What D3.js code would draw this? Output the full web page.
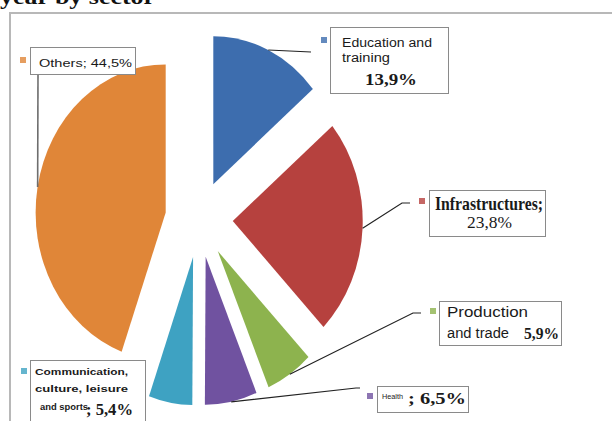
<!DOCTYPE html>
<html>
<head>
<meta charset="utf-8">
<script src="https://cdn.jsdelivr.net/npm/d3@7"></script>
<style>
  html, body { margin: 0; padding: 0; background: #fff; }
  svg { display: block; }
</style>
</head>
<body>
<script>
// ---------- data ----------
const categories = ["Education and training", "Infrastructures", "Production and trade", "Health", "Communication, culture, leisure and sports", "Others"];
const values = [13.9, 23.8, 5.9, 6.5, 5.4, 44.5];
const valueLabels = ["13,9%", "23,8%", "5,9%", "6,5%", "5,4%", "44,5%"];
const colors = ["#3d6dae", "#b6413e", "#8db34e", "#7052a0", "#3ea2c2", "#e08638"];
const titleText = "year by sector";

// ---------- layout ----------
const W = 612, H = 421;
const cx = 199, cy = 219, rx = 130, ry = 148, explode = 0.26;

const svg = d3.select("body").append("svg").attr("width", W).attr("height", H);

// title (cropped at the top of the picture)
svg.append("text").attr("x", 0).attr("y", 4)
  .attr("font-family", "Liberation Serif").attr("font-weight", "bold").attr("font-size", 22)
  .attr("textLength", 155).attr("lengthAdjust", "spacingAndGlyphs")
  .attr("fill", "#111").text(titleText);

// chart frame
svg.append("rect").attr("x", 10).attr("y", 13).attr("width", 700).attr("height", 500)
  .attr("fill", "#fff").attr("stroke", "#b8b8b8").attr("stroke-width", 2);

const pie = d3.pie().sort(null).value(d => d);
const arcs = pie(values);
const arcGen = d3.arc().innerRadius(0).outerRadius(1);

function mid(a) { return (a.startAngle + a.endAngle) / 2; }
function apex(a) {
  const m = mid(a);
  return [cx + explode * rx * Math.sin(m), cy - explode * ry * Math.cos(m)];
}
function arcMid(a) {
  const m = mid(a), p = apex(a);
  return [p[0] + rx * Math.sin(m), p[1] - ry * Math.cos(m)];
}

// slices
svg.append("g").selectAll("path").data(arcs).join("path")
  .attr("transform", d => { const p = apex(d); return `translate(${p[0]},${p[1]}) scale(${rx},${ry})`; })
  .attr("d", arcGen)
  .attr("fill", (d, i) => colors[i]);

// label layout (per category index)
const sans = "Liberation Sans", serif = "Liberation Serif";
const labelLayout = [
  { box: [330, 27, 118, 66], marker: [321, 37],
    leader: [[311, 52]], leaderColor: "#222",
    lines: [
      { t: () => "Education and", x: 342, y: 47, f: sans, s: 12, w: "normal", len: 90 },
      { t: () => "training", x: 342, y: 62, f: sans, s: 12, w: "normal", len: 48 },
      { t: i => valueLabels[i], x: 365, y: 85, f: serif, s: 17, w: "bold", len: 52 }
    ] },
  { box: [429, 190, 116, 46], marker: [419, 198],
    leader: [[402, 203], [410, 203]], leaderColor: "#222",
    lines: [
      { t: i => categories[i] + ";", x: 435, y: 210, f: serif, s: 19, w: "bold", len: 108 },
      { t: i => valueLabels[i], x: 467, y: 228, f: serif, s: 17, w: "normal", len: 45 }
    ] },
  { box: [439, 301, 122, 44], marker: [430, 308],
    leader: [[413, 313], [421, 313]], leaderColor: "#222",
    lines: [
      { t: () => "Production", x: 447, y: 317, f: sans, s: 14, w: "normal", len: 81 },
      { t: () => "and trade", x: 447, y: 338, f: sans, s: 14, w: "normal", len: 62 },
      { t: i => valueLabels[i], x: 524, y: 339, f: serif, s: 16, w: "bold", len: 35 }
    ] },
  { box: [377, 386, 91, 26], marker: [367, 393],
    leader: [[356, 388], [360, 388]], leaderColor: "#222",
    lines: [
      { t: i => categories[i], x: 382, y: 399, f: sans, s: 7, w: "normal", len: 21 },
      { t: i => "; " + valueLabels[i], x: 408, y: 404, f: serif, s: 16, w: "bold", len: 58 }
    ] },
  { box: [30, 360, 115, 80], marker: [21, 368],
    leader: null,
    lines: [
      { t: () => "Communication,", x: 35, y: 375, f: sans, s: 9, w: "bold", len: 93 },
      { t: () => "culture, leisure", x: 35, y: 392, f: sans, s: 9, w: "bold", len: 93 },
      { t: () => "and sports", x: 40, y: 410, f: sans, s: 9, w: "bold", len: 48 },
      { t: i => "; " + valueLabels[i], x: 86, y: 415, f: serif, s: 16, w: "bold", len: 47 }
    ] },
  { box: [30, 47, 105, 27], marker: [20, 57],
    leader: [[38, 74]], leaderColor: "#6e6e6e", leaderWidth: 1.6,
    lines: [
      { t: i => categories[i] + "; " + valueLabels[i], x: 39, y: 67, f: sans, s: 11, w: "normal", len: 93 }
    ] }
];

// leader lines
const lineGen = d3.line();
arcs.forEach((a, i) => {
  const L = labelLayout[i];
  if (!L.leader) return;
  const pts = [arcMid(a)].concat(L.leader);
  svg.append("path").attr("d", lineGen(pts)).attr("fill", "none")
    .attr("stroke", L.leaderColor).attr("stroke-width", L.leaderWidth || 1.2);
});

// label boxes, markers and text
const lab = svg.append("g");
arcs.forEach((a, i) => {
  const L = labelLayout[i];
  lab.append("rect").attr("x", L.box[0] + 0.5).attr("y", L.box[1] + 0.5)
    .attr("width", L.box[2]).attr("height", L.box[3])
    .attr("fill", "#fff").attr("stroke", "#8a8a8a").attr("stroke-width", 1);
  lab.append("rect").attr("x", L.marker[0]).attr("y", L.marker[1])
    .attr("width", 6).attr("height", 6).attr("fill", colors[i]).attr("opacity", 0.8);
  L.lines.forEach(ln => {
    lab.append("text").attr("x", ln.x).attr("y", ln.y)
      .attr("font-family", ln.f).attr("font-size", ln.s).attr("font-weight", ln.w)
      .attr("textLength", ln.len).attr("lengthAdjust", "spacingAndGlyphs")
      .attr("fill", "#1a1a1a").text(ln.t(i));
  });
});
</script>
</body>
</html>
